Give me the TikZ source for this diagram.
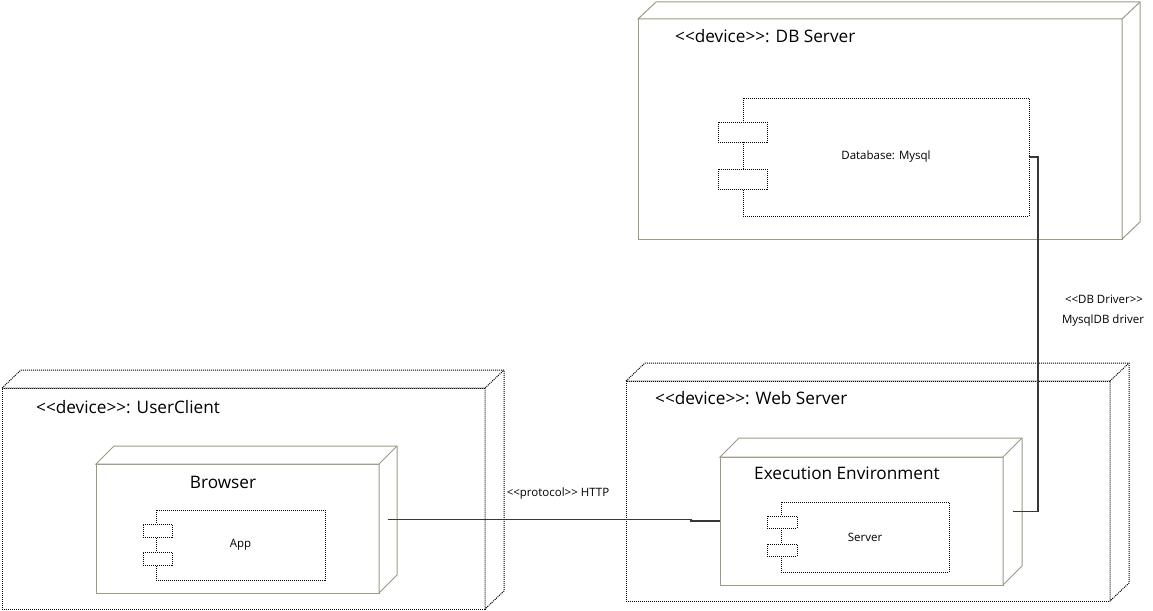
\documentclass[tikz,border=0pt]{standalone}
\usepackage{fontspec}
\setmainfont{Open Sans}
\definecolor{nodegray}{RGB}{158,153,135}
\definecolor{connclr}{RGB}{55,55,55}
\tikzset{
  x=1pt, y=-1pt,
  solidbox/.style={draw=nodegray, line width=1pt, fill=white, inner sep=0pt, outer sep=0pt, anchor=north west},
  dotbox/.style={draw=black, line width=1pt, dash pattern=on 1pt off 1pt, fill=white, inner sep=0pt, outer sep=0pt, anchor=north west},
  compbox/.style={draw=black, line width=1pt, dash pattern=on 1pt off 1pt, fill=white, inner sep=0pt, outer sep=0pt, anchor=north west},
  conn/.style={draw=connclr, line width=1.1pt},
  titletext/.style={font=\fontsize{17.2}{20}\selectfont, inner sep=0pt, anchor=west},
  smalltext/.style={font=\fontsize{11.5}{13}\selectfont, inner sep=0pt}
}
% draw top and right faces of a 3D node
\newcommand\depthfaces[4]{%
  \filldraw[#4] (#1.north west) -- ++(#2,-#3) -- ([shift={(#2,-#3)}]#1.north east)
    -- ([shift={(#2,-#3)}]#1.south east) -- (#1.south east) -- (#1.north east) -- cycle;
  \draw[#4] (#1.north east) -- ++(#2,-#3);}
\begin{document}
\begin{tikzpicture}
\useasboundingbox (0,0) rectangle (1153,610);
\fill[white] (0,0) rectangle (1153,610);

% ---------- DB Server ----------
\node[solidbox, minimum width=484pt, minimum height=220pt] (db) at (638,19) {};
\depthfaces{db}{18}{17}{solidbox}
\node[titletext] (dbtitle) at (675,36) {<{}<device>{}>: DB Server};
\node[compbox, minimum width=286pt, minimum height=118pt] (dbcomp) at (743,98) {};
\node[compbox, minimum width=49pt, minimum height=20pt] (dbp1) at (718,122) {};
\node[compbox, minimum width=49pt, minimum height=20pt] (dbp2) at (718,169) {};
\node[smalltext] (dbtext) at (dbcomp.center) {Database: Mysql};

% ---------- UserClient ----------
\node[dotbox, minimum width=483pt, minimum height=221pt] (uc) at (2,388) {};
\depthfaces{uc}{19}{18}{dotbox}
\node[titletext] (uctitle) at (36,407) {<{}<device>{}>: UserClient};
\node[solidbox, minimum width=283pt, minimum height=129pt] (browser) at (96,464) {};
\depthfaces{browser}{18}{18}{solidbox}
\node[titletext, anchor=center] (browsertitle) at (223,482) {Browser};
\node[compbox, minimum width=169pt, minimum height=70pt] (app) at (156,510) {};
\node[compbox, minimum width=29pt, minimum height=13pt] (appp1) at (143,524) {};
\node[compbox, minimum width=29pt, minimum height=13pt] (appp2) at (143,552) {};
\node[smalltext] (apptext) at (app.center) {App};

% ---------- Web Server ----------
\node[dotbox, minimum width=484pt, minimum height=220pt] (web) at (626,381) {};
\depthfaces{web}{19}{18}{dotbox}
\node[titletext] (webtitle) at (655,398) {<{}<device>{}>: Web Server};
\node[solidbox, minimum width=283pt, minimum height=128pt] (exec) at (720,457) {};
\depthfaces{exec}{19}{19}{solidbox}
\node[titletext] (exectitle) at (754,473) {Execution Environment};
\node[compbox, minimum width=168pt, minimum height=70pt] (srv) at (781,502) {};
\node[compbox, minimum width=30pt, minimum height=12pt] (srvp1) at (767,516) {};
\node[compbox, minimum width=30pt, minimum height=12pt] (srvp2) at (767,544) {};
\node[smalltext] (srvtext) at (srv.center) {Server};

% ---------- connectors ----------
\coordinate (bface) at ([shift={(9,-9)}]browser.east);
\coordinate (eface) at ([shift={(9.5,-9.5)}]exec.east);
\draw[conn] (bface) -- ++(303,0) |- (exec.west);
\draw[conn] (dbcomp.east) -- ++(9,0) |- (eface);

\node[smalltext] (httplabel) at (558,494) {<{}<protocol>{}> HTTP};
\node[smalltext] (drvlabel1) at (1104,299) {<{}<DB Driver>{}>};
\node[smalltext] (drvlabel2) at (1103,321) {MysqlDB driver};
\end{tikzpicture}
\end{document}
